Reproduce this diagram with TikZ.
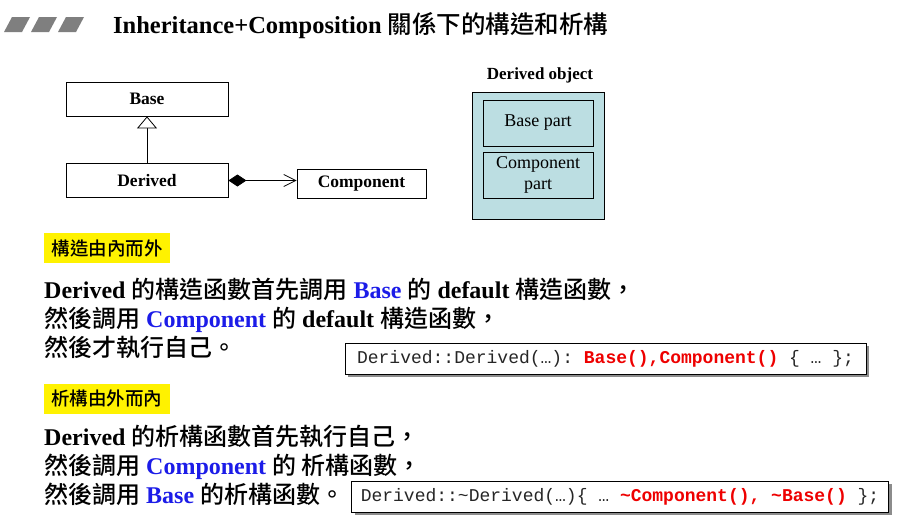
\documentclass[tikz,border=0pt]{standalone}
\usepackage{fontspec}
\setmainfont{Liberation Serif}
\setmonofont{Liberation Mono}
\newfontfamily\cjk{Noto Sans CJK TC}[UprightFont=* Medium, BoldFont=* Bold]
\usetikzlibrary{arrows.meta,shadows}

\definecolor{partblue}{HTML}{BCDEE2}
\definecolor{kwblue}{HTML}{1C1CE8}
\definecolor{codered}{HTML}{EE0000}
\definecolor{stripegray}{HTML}{7F7F7F}

\newcommand{\zh}[1]{{\cjk\mdseries #1}}
\newcommand{\kw}[1]{\textbf{\color{kwblue}#1}}
\newcommand{\red}[1]{\textbf{\color{codered}#1}}

\begin{document}
\begin{tikzpicture}[x=1pt, y=-1pt, >=Stealth]

    \tikzset{
        umlbox/.style={draw, line width=0.8pt, fill=white, minimum width=162pt, minimum height=34pt, inner sep=0pt, font=\fontsize{17.5}{20}\selectfont\bfseries},
        partbox/.style={draw, line width=0.8pt, minimum width=110pt, minimum height=46pt, inner sep=0pt, align=center, font=\fontsize{18}{21}\selectfont},
        tagbox/.style={fill=yellow, minimum width=126pt, minimum height=30pt, inner sep=0pt, font=\cjk\fontsize{18.5}{20}\selectfont},
        paraline/.style={anchor=base west, inner sep=0pt, font=\fontsize{24}{28}\selectfont},
        codebox/.style={draw, fill=white, line width=0.8pt, inner sep=0pt, text=black!85,
            drop shadow={shadow xshift=3pt, shadow yshift=-3pt, fill=black!45, opacity=1},
            font=\fontsize{18}{20}\selectfont\ttfamily}
    }

    % 页面范围
    \useasboundingbox (0,0) rectangle (902,517);
    \fill[white] (0,0) rectangle (902,517);

    % 1. 标题和左侧斜条
    \foreach \x in {4,31,58}
        \fill[stripegray] (\x,32) -- (\x+18,32) -- (\x+26,17) -- (\x+8,17) -- cycle;
    \node[anchor=base west, inner sep=0pt, font=\fontsize{24.5}{28}\selectfont\bfseries] (title) at (113,33)
        {Inheritance+Composition \zh{關係下的構造和析構}};

    % 2. 类图 Base / Derived / Component
    \node[umlbox] (base) at (147,99) {Base};
    \node[umlbox] (derived) at (147,180.5) {Derived};
    \node[umlbox, minimum width=129pt, minimum height=29pt] (component) at (361.5,183.5) {Component};

    \draw[-{Triangle[open, length=12pt, width=20pt, fill=white]}, line width=0.8pt] (derived.north) -- (base.south);
    \draw[{Diamond[length=18pt, width=12pt]}-{Straight Barb[length=12pt, width=12pt]}, line width=0.8pt]
        (derived.east) -- (derived.east -| component.west);

    % 3. Derived object 内存布局
    \node[font=\fontsize{17}{20}\selectfont\bfseries] (objlabel) at (540,75) {Derived object};
    \node[draw, line width=0.8pt, fill=partblue, minimum width=132pt, minimum height=127pt, inner sep=0pt] (object) at (538,155.5) {};
    \node[partbox] (basepart) at (538,123) {Base part};
    \node[partbox] (comppart) at (538,175) {Component\\part};

    % 4. 构造由内而外
    \node[tagbox] (ctortag) at (107,248) {構造由內而外};
    \node[paraline] (ctor1) at (44,298)
        {\textbf{Derived} \zh{的構造函數首先調用} \kw{Base} \zh{的} \textbf{default} \zh{構造函數，}};
    \node[paraline] (ctor2) at (44,327)
        {\zh{然後調用} \kw{Component} \zh{的} \textbf{default} \zh{構造函數，}};
    \node[paraline] (ctor3) at (44,356) {\zh{然後才執行自己。}};
    \node[codebox, minimum width=521pt, minimum height=31pt] (ctorcode) at (605.5,358.5)
        {Derived::Derived(…): \red{Base(),Component()} \{ … \};};

    % 5. 析构由外而内
    \node[tagbox] (dtortag) at (106.5,398.5) {析構由外而內};
    \node[paraline] (dtor1) at (44,445) {\textbf{Derived} \zh{的析構函數首先執行自己，}};
    \node[paraline] (dtor2) at (44,474) {\zh{然後調用} \kw{Component} \zh{的 析構函數，}};
    \node[paraline] (dtor3) at (44,503) {\zh{然後調用} \kw{Base} \zh{的析構函數。}};
    \node[codebox, minimum width=537pt, minimum height=31pt] (dtorcode) at (620,496.5)
        {Derived::\textasciitilde Derived(…)\{ … \red{\textasciitilde Component(), \textasciitilde Base()} \};};

\end{tikzpicture}
\end{document}
